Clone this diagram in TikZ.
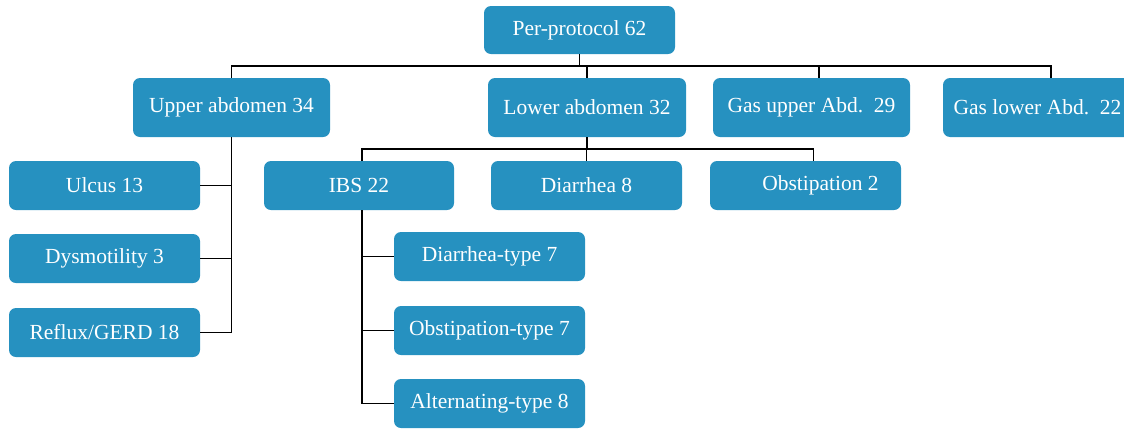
\documentclass[tikz,border=0pt]{standalone}
\usepackage{fontspec}
\setmainfont{Liberation Serif}
\definecolor{boxblue}{RGB}{38,145,192}
\begin{document}
\begin{tikzpicture}[x=1pt,y=-1pt,
  box/.style={rectangle, rounded corners=7pt, fill=boxblue, text=white,
    font=\fontsize{21.5}{25}\selectfont, inner sep=0pt, minimum height=49pt, minimum width=191pt},
  big/.style={box, minimum height=59pt, minimum width=197pt},
  conn/.style={draw=black, line width=1.1pt}]
\useasboundingbox (0,0) rectangle (1124,429);
% nodes
\node[box, minimum height=48pt] (pp) at (579.5,30) {Per-protocol 62};
\node[big] (ua) at (231.5,107.5) {Upper abdomen 34};
\node[big, minimum width=198pt] (la) at (587,107.5) {Lower abdomen 32};
\node[big] (gu) at (811.5,107.5) {Gas upper Abd.\ \ 29};
\node[big] (gl) at (1041.5,107.5) {\hspace*{-8pt}Gas lower Abd.\ \ 22};
\node[box] (ul) at (104.5,185.5) {Ulcus 13};
\node[box] (dy) at (104.5,258.5) {Dysmotility 3};
\node[box] (re) at (104.5,332.5) {Reflux/GERD 18};
\node[box, minimum width=190pt] (ibs) at (359,185.5) {IBS 22};
\node[box] (di) at (586.5,185.5) {Diarrhea 8};
\node[box] (ob) at (805.5,185.5) {\hspace*{30pt}Obstipation 2};
\node[box] (dt) at (489.5,256.5) {Diarrhea-type 7};
\node[box] (ot) at (489.5,330.5) {Obstipation-type 7};
\node[box] (at) at (489.5,403.5) {Alternating-type 8};
% helper coordinates
\coordinate (h1) at (0,66);
\coordinate (h2) at (0,149);
\coordinate (glx) at ([xshift=9.5pt]gl.north);
\coordinate (gux) at ([xshift=7.5pt]gu.north);
\coordinate (obx) at ([xshift=8pt]ob.north);
\coordinate (ibst) at ([xshift=3pt]ibs.north);
\coordinate (ibsb) at ([xshift=3pt]ibs.south);
% level 1
\draw[conn, line width=1.5pt] (pp.south) -- (pp.south |- h1);
\draw[conn] (ua.north) |- (glx |- h1) -- (glx);
\draw[conn] (la.north) -- (la.north |- h1);
\draw[conn] (gux) -- (gux |- h1);
% lower abdomen children
\draw[conn] (la.south) -- (la.south |- h2);
\draw[conn] (ibst) |- (obx |- h2) -- (obx);
\draw[conn] (di.north) -- (di.north |- h2);
% upper abdomen children
\draw[conn] (ua.south) |- (re.east);
\draw[conn] (ul.east) -- (ul.east -| ua.south);
\draw[conn] (dy.east) -- (dy.east -| ua.south);
% IBS children
\draw[conn] (ibsb) |- (at.west);
\draw[conn] (dt.west) -- (dt.west -| ibsb);
\draw[conn] (ot.west) -- (ot.west -| ibsb);
\end{tikzpicture}
\end{document}
